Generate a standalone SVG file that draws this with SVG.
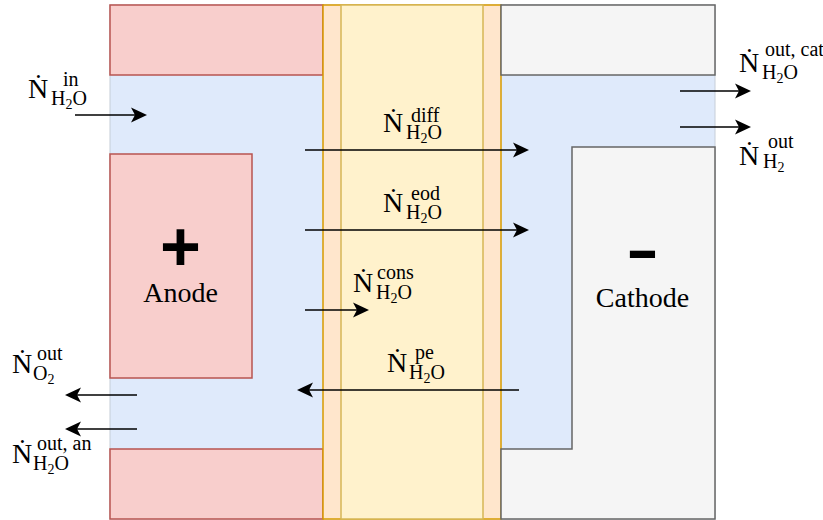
<svg xmlns="http://www.w3.org/2000/svg" width="823" height="520" viewBox="0 0 823 520">
<defs>
<style>
.bg{fill:#dfeafb;stroke:#c6ced8;stroke-width:1}
.an{fill:#f8cecc;stroke:#b85450;stroke-width:1.5}
.mo{fill:#ffe6cc;stroke:#d79b00;stroke-width:1.5}
.mi{fill:#fff2cc;stroke:#d6b656;stroke-width:1.5}
.ca{fill:#f5f5f5;stroke:#666666;stroke-width:1.5}
.ln{stroke:#000;stroke-width:1.5;fill:none;marker-end:url(#arr)}
.n{font-size:28px;fill:#000}
.s{font-size:20px;fill:#000}
.ss{font-size:14px}
.lb{font-size:28px;fill:#000;text-anchor:middle}
.sym{font-weight:bold;fill:#000;text-anchor:middle}
</style>
<marker id="arr" markerUnits="userSpaceOnUse" markerWidth="17" markerHeight="16" viewBox="0 0 17 16" refX="14" refY="8" orient="auto">
<path d="M0,0.5 L16,8 L0,15.5 L4,8 Z" fill="#000"/>
</marker>
</defs>

<g id="channel-background">
<rect class="bg" x="110" y="5" width="605" height="514"/>
</g>

<g id="anode">
<rect class="an" x="110" y="5" width="213" height="70"/>
<rect class="an" x="110" y="154" width="142" height="224"/>
<rect class="an" x="110" y="449" width="213" height="70"/>
<text class="sym" font-family="Liberation Sans, Arial, sans-serif" x="180.5" y="270.5" font-size="70">+</text>
<text class="lb" font-family="Liberation Serif, Times New Roman, serif" x="180.5" y="302">Anode</text>
</g>

<g id="membrane">
<rect class="mo" x="323" y="5" width="178" height="514"/>
<rect class="mi" x="341" y="5" width="142" height="514"/>
</g>

<g id="cathode">
<rect class="ca" x="501" y="5" width="214" height="70"/>
<polygon class="ca" points="572,147 715,147 715,519 501,519 501,449 572,449"/>
<text class="sym" font-family="Liberation Sans, Arial, sans-serif" x="642.5" y="270" font-size="62" textLength="33" lengthAdjust="spacingAndGlyphs">-</text>
<text class="lb" font-family="Liberation Serif, Times New Roman, serif" x="642.5" y="307" font-size="27.5">Cathode</text>
</g>

<g id="connectors">
<line class="ln" x1="75" y1="115" x2="145" y2="115"/>
<line class="ln" x1="305" y1="150" x2="527" y2="150"/>
<line class="ln" x1="305" y1="230" x2="527" y2="230"/>
<line class="ln" x1="305" y1="310" x2="367" y2="310"/>
<line class="ln" x1="519" y1="390" x2="299" y2="390"/>
<line class="ln" x1="137" y1="395" x2="67" y2="395"/>
<line class="ln" x1="137" y1="429" x2="67" y2="429"/>
<line class="ln" x1="680" y1="91" x2="749" y2="91"/>
<line class="ln" x1="680" y1="127" x2="749" y2="127"/>
</g>

<g id="labels" font-family="Liberation Serif, Times New Roman, serif">
<g id="label-in">
<text class="n" x="28" y="98">Ṅ</text>
<text class="s" x="63" y="86">in</text>
<text class="s" x="51" y="105">H<tspan class="ss" dy="4">2</tspan><tspan dy="-4">O</tspan></text>
</g>
<g id="label-diff">
<text class="n" x="383" y="132">Ṅ</text>
<text class="s" x="411" y="122">diff</text>
<text class="s" x="406" y="139">H<tspan class="ss" dy="4">2</tspan><tspan dy="-4">O</tspan></text>
</g>
<g id="label-eod">
<text class="n" x="383" y="212">Ṅ</text>
<text class="s" x="411" y="200">eod</text>
<text class="s" x="406" y="219">H<tspan class="ss" dy="4">2</tspan><tspan dy="-4">O</tspan></text>
</g>
<g id="label-cons">
<text class="n" x="353" y="292">Ṅ</text>
<text class="s" x="377" y="279">cons</text>
<text class="s" x="376" y="299">H<tspan class="ss" dy="4">2</tspan><tspan dy="-4">O</tspan></text>
</g>
<g id="label-pe">
<text class="n" x="387" y="372">Ṅ</text>
<text class="s" x="415" y="359">pe</text>
<text class="s" x="409" y="379">H<tspan class="ss" dy="4">2</tspan><tspan dy="-4">O</tspan></text>
</g>
<g id="label-o2-out">
<text class="n" x="12" y="373">Ṅ</text>
<text class="s" x="37" y="360">out</text>
<text class="s" x="33" y="380">O<tspan class="ss" dy="4">2</tspan></text>
</g>
<g id="label-h2o-out-an">
<text class="n" x="12" y="463">Ṅ</text>
<text class="s" x="37" y="450">out, an</text>
<text class="s" x="33" y="470">H<tspan class="ss" dy="4">2</tspan><tspan dy="-4">O</tspan></text>
</g>
<g id="label-h2o-out-cat">
<text class="n" x="739" y="72">Ṅ</text>
<text class="s" x="765" y="56">out, cat</text>
<text class="s" x="762" y="79">H<tspan class="ss" dy="4">2</tspan><tspan dy="-4">O</tspan></text>
</g>
<g id="label-h2-out">
<text class="n" x="739" y="165">Ṅ</text>
<text class="s" x="768" y="148">out</text>
<text class="s" x="763" y="168">H<tspan class="ss" dy="4">2</tspan></text>
</g>
</g>
</svg>
